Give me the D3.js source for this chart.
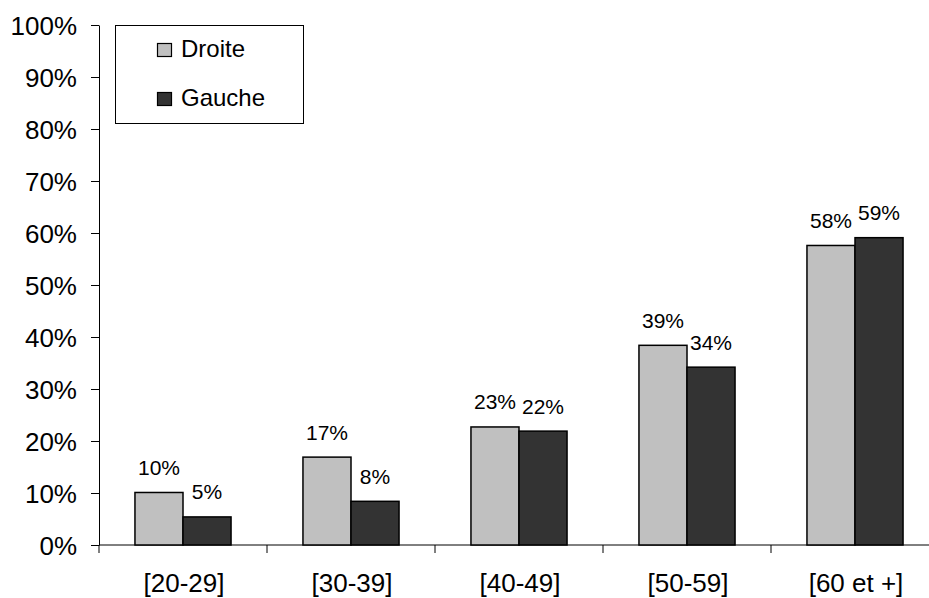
<!DOCTYPE html>
<html><head><meta charset="utf-8">
<script src="https://cdn.jsdelivr.net/npm/d3@7"></script>
<style>body{margin:0;background:#fff}svg{display:block}text{font-family:"Liberation Sans",Arial,sans-serif;fill:#000}</style>
</head><body><svg id="c" width="929" height="598"></svg>
<script>
const categories = ["[20-29]", "[30-39]", "[40-49]", "[50-59]", "[60 et +]"];
const seriesNames = ["Droite", "Gauche"];
const droite = [10.1, 16.9, 22.7, 38.4, 57.6];
const gauche = [5.4, 8.4, 21.9, 34.2, 59.1];
const droiteLabels = ["10%", "17%", "23%", "39%", "58%"];
const gaucheLabels = ["5%", "8%", "22%", "34%", "59%"];
const yTicks = [0, 10, 20, 30, 40, 50, 60, 70, 80, 90, 100];
const colors = ["#c0c0c0", "#333333"];

const svg = d3.select("#c");
const x0 = 99, x1 = 939, yTop = 25, yBot = 545;
const x = d3.scaleBand().domain(categories).range([x0, x1]).paddingInner(0).paddingOuter(0);
const y = d3.scaleLinear().domain([0, 100]).range([yBot, yTop]);
const inner = d3.scaleBand().domain(seriesNames).range([0, x.bandwidth()]).paddingInner(0).paddingOuter(0.7485);

const data = [droite, gauche];
const labels = [droiteLabels, gaucheLabels];

// y axis
const yAxis = d3.axisLeft(y).tickValues(yTicks).tickFormat(d => d + "%").tickSize(8).tickSizeOuter(0).tickPadding(14);
const gy = svg.append("g").attr("transform", `translate(${x0},0)`).call(yAxis);
gy.selectAll("path,line").attr("stroke", "#000").attr("stroke-width", 1);
gy.selectAll("text").style("font-size", "26px").attr("dy", "0.37em");

// x axis
const gx = svg.append("g").attr("transform", `translate(0,${yBot})`);
gx.append("line").attr("x1", x0).attr("x2", x1).attr("stroke", "#000");
const bounds = categories.map(c => x(c)).concat([x1]);
gx.selectAll("line.t").data(bounds).enter().append("line").attr("class", "t")
  .attr("x1", d => d).attr("x2", d => d).attr("y1", 0).attr("y2", 8).attr("stroke", "#000");
gx.selectAll("text").data(categories).enter().append("text")
  .attr("x", d => x(d) + x.bandwidth() / 2 + 1).attr("y", 47)
  .attr("text-anchor", "middle").style("font-size", "26px").text(d => d);

// bars
seriesNames.forEach((s, si) => {
  const g = svg.append("g");
  g.selectAll("rect").data(data[si]).enter().append("rect")
    .attr("x", (d, i) => x(categories[i]) + inner(s))
    .attr("y", d => y(d))
    .attr("width", inner.bandwidth())
    .attr("height", d => y(0) - y(d))
    .attr("fill", colors[si]).attr("stroke", "#000").attr("stroke-width", 1.5);
  g.selectAll("text").data(data[si]).enter().append("text")
    .attr("x", (d, i) => x(categories[i]) + inner(s) + inner.bandwidth() / 2)
    .attr("y", d => y(d) - 17.5)
    .attr("text-anchor", "middle").style("font-size", "21px")
    .text((d, i) => labels[si][i]);
});

// legend
const lg = svg.append("g");
lg.append("rect").attr("x", 115.5).attr("y", 25.5).attr("width", 188).attr("height", 98)
  .attr("fill", "#fff").attr("stroke", "#000").attr("stroke-width", 1);
seriesNames.forEach((s, i) => {
  const top = 43.5 + i * 49;
  lg.append("rect").attr("x", 157.5).attr("y", top).attr("width", 14).attr("height", 13)
    .attr("fill", colors[i]).attr("stroke", "#000").attr("stroke-width", 1.2);
  lg.append("text").attr("x", 181).attr("y", top + 13.5).style("font-size", "24px").text(s);
});
</script></body></html>
